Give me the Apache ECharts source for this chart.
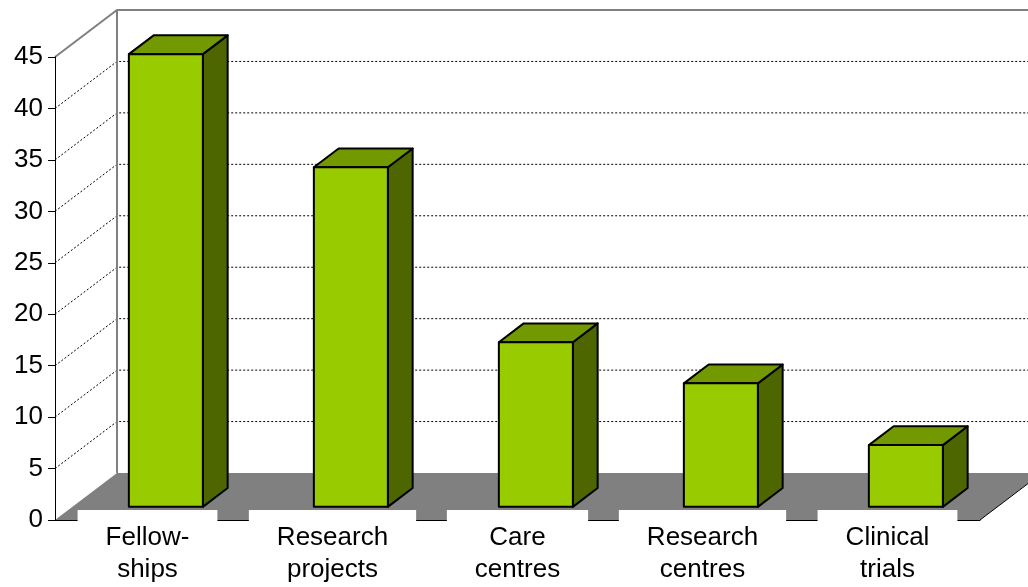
<!DOCTYPE html>
<html>
<head>
<meta charset="utf-8">
<script src="https://cdn.jsdelivr.net/npm/echarts@6/dist/echarts.min.js"></script>
<style>
  html, body { margin: 0; padding: 0; background: #fff; }
  #chart { width: 1028px; height: 587px; }
</style>
</head>
<body>
<div id="chart"></div>
<script>
// data
var categories = ['Fellow-\nships', 'Research\nprojects', 'Care\ncentres', 'Research\ncentres', 'Clinical\ntrials'];
var counts = [44, 33, 16, 12, 6];
var yTicks = [0, 5, 10, 15, 20, 25, 30, 35, 40, 45];

// 3d look: how far the back wall sits from the front plane (px)
var DX = 62, DY = 47;
var FONT = 'Arial, "Liberation Sans", sans-serif';

var chart = echarts.init(document.getElementById('chart'));

// walls, floor and the dotted gridlines
function renderWalls(params, api) {
  var cs = params.coordSys;
  var x0 = cs.x, x1 = cs.x + cs.width;
  var yb = api.coord([0, 0])[1];
  var yt = api.coord([0, yTicks[yTicks.length - 1]])[1];
  var kids = [];
  kids.push({
    type: 'polygon',
    shape: { points: [[x0, yb], [x0 + DX, yb - DY], [x1 + DX, yb - DY], [x1, yb]] },
    style: { fill: '#808080' }
  });
  // grid lines (skip 0 and the top)
  yTicks.slice(1, -1).forEach(function (v) {
    var y = api.coord([0, v])[1];
    kids.push({
      type: 'polyline',
      shape: { points: [[x0, y], [x0 + DX, y - DY], [x1 + DX, y - DY]] },
      style: { stroke: '#000', lineWidth: 1, lineDash: [2, 2], fill: null }
    });
  });
  // back wall outline
  kids.push({
    type: 'polyline',
    shape: { points: [[x0, yt], [x0 + DX, yt - DY], [x1 + DX, yt - DY]] },
    style: { stroke: '#808080', lineWidth: 2, fill: null }
  });
  kids.push({
    type: 'line',
    shape: { x1: x0 + DX, y1: yt - DY, x2: x0 + DX, y2: yb - DY },
    style: { stroke: '#808080', lineWidth: 2 }
  });
  // right edge of floor
  kids.push({
    type: 'line',
    shape: { x1: x1, y1: yb, x2: x1 + DX, y2: yb - DY },
    style: { stroke: '#000', lineWidth: 1 }
  });
  return { type: 'group', children: kids };
}

function renderBar(params, api) {
  var idx = api.value(0);
  var base = api.coord([idx, 0]);
  var top = api.coord([idx, api.value(1)]);
  var bw = api.size([1, 0])[0];
  var half = bw * 0.2;
  var fx = DX * 0.28, fy = DY * 0.28;   // front face depth
  var dx = DX * 0.40, dy = DY * 0.40;   // bar depth
  var L = base[0] + 1 - half + fx, R = base[0] + 1 + half + fx;
  var T = top[1] - fy, B = base[1] - fy;
  var edge = { stroke: '#000', lineWidth: 2, lineJoin: 'round' };
  return {
    type: 'group',
    children: [
      { type: 'polygon', shape: { points: [[R, T], [R + dx, T - dy], [R + dx, B - dy], [R, B]] },
        style: Object.assign({ fill: '#4d6600' }, edge) },
      { type: 'polygon', shape: { points: [[L, T], [L + dx, T - dy], [R + dx, T - dy], [R, T]] },
        style: Object.assign({ fill: '#739900' }, edge) },
      { type: 'rect', shape: { x: L, y: T, width: R - L, height: B - T },
        style: Object.assign({ fill: '#99cc00' }, edge) }
    ]
  };
}

chart.setOption({
  animation: false,
  grid: { left: 55, right: 48, top: 57, bottom: 67, outerBoundsMode: 'none', containLabel: false },
  xAxis: {
    type: 'category',
    data: categories,
    z: 2,
    axisLine: { lineStyle: { color: '#000', width: 1 } },
    axisTick: { length: 8, lineStyle: { color: '#000' } },
    axisLabel: {
      interval: 0,
      margin: -10,
      color: '#000',
      fontSize: 26,
      fontFamily: FONT,
      lineHeight: 32,
      backgroundColor: '#fff',
      padding: [12, 28, 20, 28]
    }
  },
  yAxis: {
    type: 'value',
    min: 0,
    max: 45,
    interval: 5,
    z: 2,
    splitLine: { show: false },
    axisLine: { show: true, lineStyle: { color: '#000', width: 1 } },
    axisTick: { show: true, length: 7, lineStyle: { color: '#000' } },
    axisLabel: { margin: 12, color: '#000', fontSize: 26, fontFamily: FONT }
  },
  series: [
    {
      type: 'custom',
      z: 1,
      clip: false,
      silent: true,
      renderItem: renderWalls,
      data: [[0, 0]]
    },
    {
      type: 'custom',
      z: 3,
      clip: false,
      renderItem: renderBar,
      encode: { x: 0, y: 1 },
      data: counts.map(function (v, i) { return [i, v]; })
    }
  ]
});
</script>
</body>
</html>
